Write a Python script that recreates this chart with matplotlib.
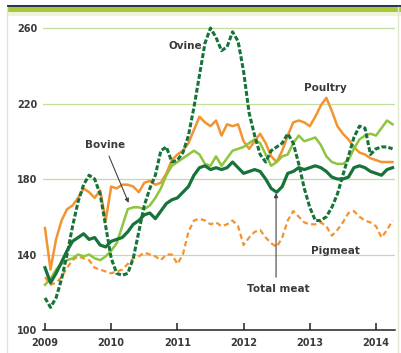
import numpy as np
import matplotlib.pyplot as plt
from matplotlib.patches import Rectangle

# Monthly meat price indices, Jan 2009 - Apr 2014
poultry = [154, 132, 148, 158, 164, 166, 170, 175, 173, 170, 174, 158,
           176, 175, 177, 177, 176, 173, 178, 179, 177, 178, 183, 190,
           193, 195, 199, 206, 213, 210, 208, 211, 203, 209, 208, 209,
           200, 196, 200, 204, 199, 192, 189, 195, 203, 210, 211, 210,
           208, 213, 219, 223, 216, 208, 204, 201, 197, 194, 193, 191,
           190, 189, 189, 189]
bovine = [124, 127, 132, 135, 137, 138, 140, 139, 140, 138, 137, 139,
          142, 146, 155, 164, 165, 165, 164, 166, 170, 175, 182, 187,
          189, 191, 193, 195, 193, 188, 187, 192, 187, 191, 195, 196,
          197, 199, 201, 199, 193, 187, 189, 192, 193, 199, 203, 200,
          201, 202, 198, 192, 189, 188, 188, 190, 196, 201, 203, 204,
          203, 207, 211, 209]
total_meat = [133, 125, 130, 136, 142, 147, 149, 151, 148, 149, 145, 144,
              147, 148, 149, 152, 156, 158, 161, 162, 159, 163, 167, 169,
              170, 173, 176, 182, 186, 187, 185, 186, 185, 186, 189, 186,
              183, 184, 185, 184, 180, 175, 173, 176, 183, 184, 186, 185,
              186, 187, 186, 184, 181, 180, 180, 181, 186, 187, 186, 184,
              183, 182, 185, 186]
ovine = [117, 112, 117, 127, 140, 155, 168, 177, 182, 180, 172, 155,
         138, 130, 129, 130, 138, 152, 166, 175, 182, 195, 197, 189,
         190, 194, 203, 218, 235, 252, 260, 255, 248, 250, 258, 253,
         237, 215, 203, 193, 189, 195, 197, 199, 204, 199, 188, 175,
         165, 158, 158, 160, 165, 172, 182, 192, 202, 208, 207, 193,
         196, 197, 197, 196]
pigmeat = [128, 124, 125, 128, 133, 137, 139, 138, 137, 133, 132, 131,
           130, 131, 132, 135, 138, 139, 141, 140, 139, 137, 140, 140,
           135, 140, 152, 158, 159, 158, 156, 157, 155, 156, 158, 155,
           145, 149, 152, 153, 149, 146, 144, 149, 158, 163, 160, 157,
           156, 156, 157, 155, 150, 153, 157, 162, 163, 160, 158, 157,
           155, 149, 153, 158]
years = [2009, 2010, 2011, 2012, 2013, 2014]
y_ticks = [100, 140, 180, 220, 260]

dates = 2009 + np.arange(len(poultry)) / 12

orange = '#f39331'
light_green = '#8cc63e'
dark_green = '#17733a'
text_col = '#3a3a3a'

fig = plt.figure(figsize=(4.01, 3.53), dpi=100)
fig.patch.set_facecolor('white')

# header strip and frame lines
fig.add_artist(Rectangle((7 / 401, 1 - 7 / 353), 1, 2 / 353, transform=fig.transFigure,
                         color='#2b3550', lw=0))
fig.add_artist(Rectangle((7 / 401, 1 - 12 / 353), 1, 5 / 353, transform=fig.transFigure,
                         color='#a8c83a', lw=0))
fig.add_artist(Rectangle((7 / 401, 1 - 16 / 353), 1, 4 / 353, transform=fig.transFigure,
                         color='#eef4dc', lw=0))
fig.add_artist(plt.Line2D([7 / 401, 7 / 401], [0, 1 - 7 / 353], transform=fig.transFigure,
                          color='#dfe9cf', lw=1))
fig.add_artist(plt.Line2D([398 / 401, 398 / 401], [0, 1 - 7 / 353], transform=fig.transFigure,
                          color='#dfe9cf', lw=1))

ax = fig.add_axes([43 / 401, 23 / 353, 352 / 401, 313.3 / 353])
ax.set_xlim(2009 - 2 / 66.2, 2009 + 350 / 66.2)
ax.set_ylim(100, 266)
ax.set_facecolor('none')

for v in y_ticks[1:]:
    ax.axhline(v, color='#c3dd9e', lw=0.9, zorder=0)

ax.plot(dates, pigmeat, color=orange, lw=1.6, dashes=(2.4, 1.5))
ax.plot(dates, poultry, color=orange, lw=1.8)
ax.plot(dates, bovine, color=light_green, lw=1.8)
ax.plot(dates, total_meat, color=dark_green, lw=2.3)
ax.plot(dates, ovine, color=dark_green, lw=2.2, dashes=(1.6, 0.7))

for s in ['left', 'right', 'top']:
    ax.spines[s].set_visible(False)
ax.spines['bottom'].set_color('#222222')
ax.spines['bottom'].set_linewidth(1.1)

ax.set_xticks(years)
ax.set_xticklabels([str(y) for y in years])
ax.set_yticks(y_ticks)
ax.tick_params(axis='x', direction='in', length=5, width=1.1, color='#222222',
               pad=6, labelsize=7, labelcolor=text_col)
ax.tick_params(axis='y', length=0, pad=4, labelsize=7, labelcolor=text_col)
for lab in ax.get_xticklabels() + ax.get_yticklabels():
    lab.set_fontweight('bold')

lab_kw = dict(fontsize=7.5, fontweight='bold', color=text_col, ha='center', va='center')
ax.text(2011.12, 250.5, 'Ovine', **lab_kw)
ax.text(2013.24, 228, 'Poultry', **lab_kw)
ax.text(2009.9, 198, 'Bovine', **lab_kw)
ax.text(2012.53, 121.5, 'Total meat', **lab_kw)
ax.text(2013.39, 142, 'Pigmeat', **lab_kw)

arrow_kw = dict(arrowstyle='-|>', color='#444444', lw=0.8, mutation_scale=6)
ax.annotate('', xy=(2010.28, 166), xytext=(2009.95, 193.5), arrowprops=arrow_kw)
ax.annotate('', xy=(2012.49, 174), xytext=(2012.49, 126.5), arrowprops=arrow_kw)

fig.savefig('out.png', dpi=100)
